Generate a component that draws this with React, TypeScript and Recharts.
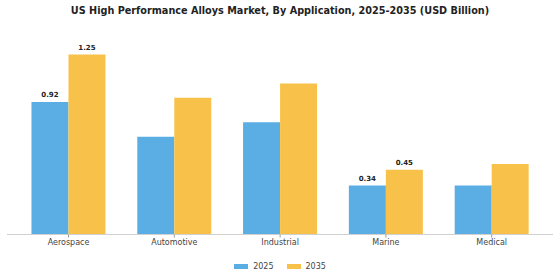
import { BarChart, Bar, XAxis, YAxis, Legend, LabelList } from 'recharts';

const categories = ['Aerospace', 'Automotive', 'Industrial', 'Marine', 'Medical'];
const values2025 = [0.92, 0.68, 0.78, 0.34, 0.34];
const values2035 = [1.25, 0.95, 1.05, 0.45, 0.49];
const labelled = ['Aerospace', 'Marine'];

const BLUE = '#5AAEE3';
const YELLOW = '#F8C24A';
const FONT = '"DejaVu Sans", sans-serif';

const data = categories.map((name, i) => ({
  name,
  y2025: values2025[i],
  y2035: values2035[i],
}));

const renderLabel = (props: any) => {
  const { x, y, width, value, index } = props;
  if (!labelled.includes(categories[index])) return null;
  return (
    <text x={x + width / 2} y={y - 5} textAnchor="middle" fontSize={7} fontWeight="bold" fill="#222" fontFamily={FONT}>
      {value.toFixed(2)}
    </text>
  );
};

const renderLegend = () => (
  <div style={{ display: 'flex', justifyContent: 'center', alignItems: 'center', gap: 13, paddingTop: 7, fontFamily: FONT, fontSize: 8, color: '#444' }}>
    {[['2025', BLUE], ['2035', YELLOW]].map(([label, color]) => (
      <div key={label} style={{ display: 'flex', alignItems: 'center', gap: 5 }}>
        <span style={{ display: 'inline-block', width: 14, height: 5, background: color }} />
        <span>{label}</span>
      </div>
    ))}
  </div>
);

export default function App() {
  return (
    <div style={{ position: 'absolute', left: 0, top: 0, width: 560, height: 280, background: 'white' }}>
      <div style={{ position: 'absolute', top: 5, left: 0, width: 560, textAlign: 'center', fontFamily: FONT, fontWeight: 'bold', fontSize: 9.7, color: '#222' }}>
        US High Performance Alloys Market, By Application, 2025-2035 (USD Billion)
      </div>
      <BarChart width={560} height={280} data={data} margin={{ top: 33, right: 7, left: 7, bottom: 0 }} barCategoryGap="15%" barGap={0}>
        <XAxis
          dataKey="name"
          height={20}
          padding={{ left: 8.6, right: 8.4 }}
          axisLine={{ stroke: '#d0d0d0' }}
          tickLine={{ stroke: '#999' }}
          tickSize={3}
          tickMargin={2}
          tick={{ fontSize: 8, fill: '#444', fontFamily: FONT }}
        />
        <YAxis hide domain={[0, 1.4]} />
        <Legend verticalAlign="bottom" height={25.5} content={renderLegend} />
        <Bar dataKey="y2025" name="2025" fill={BLUE} isAnimationActive={false}>
          <LabelList dataKey="y2025" content={renderLabel} />
        </Bar>
        <Bar dataKey="y2035" name="2035" fill={YELLOW} isAnimationActive={false}>
          <LabelList dataKey="y2035" content={renderLabel} />
        </Bar>
      </BarChart>
    </div>
  );
}
